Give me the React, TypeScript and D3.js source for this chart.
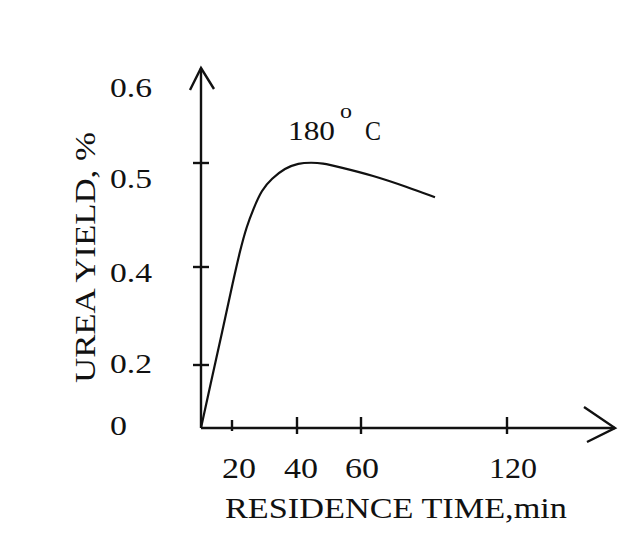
import React, { useEffect, useRef } from "react";
import * as d3 from "d3";

// residence time (min) vs urea yield (%) at 180 C
const timeMin = [0, 7.1, 13.5, 20.4, 22.5, 24.5, 26.6, 29.1, 32.2, 36.3, 40.4, 44.6, 47.7, 53.4, 64.9, 78.9, 90.4];
const yieldPct = [0, 0.16, 0.265, 0.373, 0.416, 0.439, 0.456, 0.474, 0.485, 0.495, 0.5, 0.5005, 0.5, 0.496, 0.488, 0.477, 0.467];

// the original axes are hand drawn, ticks are not evenly spaced
const xTicks = [20, 40, 60, 120];
const xTickPx = [201, 232, 297, 361, 507];
const yTicks = [0, 0.2, 0.4, 0.5, 0.6];
const yTickLabels = ["0", "0.2", "0.4", "0.5", "0.6"];
const yTickPx = [428, 365, 267, 163, 88];
const yLabelBaseline = [435, 373, 282, 188, 97];

const App = () => {
  const ref = useRef<SVGSVGElement>(null);

  useEffect(() => {
    const width = 637;
    const height = 539;
    const svg = d3.select(ref.current);
    svg.selectAll("*").remove();
    svg.attr("width", width).attr("height", height);

    const x = d3.scaleLinear().domain([0, ...xTicks]).range(xTickPx);
    const y = d3.scaleLinear().domain(yTicks).range(yTickPx);
    const yLab = d3.scaleLinear().domain(yTicks).range(yLabelBaseline);

    const x0 = x(0);
    const y0 = y(0);
    const font = "'Liberation Serif', 'Times New Roman', serif";

    const label = (g, txt, px, py, size, len, anchor = "start") =>
      g
        .append("text")
        .attr("x", px)
        .attr("y", py)
        .attr("font-family", font)
        .attr("font-size", size)
        .attr("text-anchor", anchor)
        .attr("textLength", len)
        .attr("lengthAdjust", "spacingAndGlyphs")
        .attr("fill", "#111")
        .text(txt);

    // axes
    const axes = svg.append("g").attr("stroke", "#111").attr("stroke-width", 2.4).attr("fill", "none");
    axes.append("line").attr("x1", x0).attr("y1", y0).attr("x2", x0).attr("y2", 68);
    axes.append("polyline").attr("points", `${x0 - 11},90 ${x0},68 ${x0 + 13},89`);
    axes.append("line").attr("x1", x0).attr("y1", y0).attr("x2", 615).attr("y2", y0);
    axes.append("polyline").attr("points", `584,407 615,${y0} 587,442`);

    // y ticks (0.6 has none, just the label)
    yTicks.slice(1, 4).forEach((v) => {
      axes.append("line").attr("x1", x0 - 8).attr("x2", x0 + 8).attr("y1", y(v)).attr("y2", y(v));
    });
    xTicks.forEach((v, i) => {
      const h = i === 0 ? 5 : 8;
      axes.append("line").attr("x1", x(v)).attr("x2", x(v)).attr("y1", y0 - h - 3).attr("y2", y0 + h - 2);
    });

    // tick labels
    yTicks.forEach((v, i) => {
      label(svg, yTickLabels[i], 110, yLab(v), 27, v === 0 ? 17 : 42);
    });
    const xLabelShift = [7, 4, 1, 6];
    xTicks.forEach((v, i) => {
      label(svg, String(v), x(v) + xLabelShift[i], 478, 29, v >= 100 ? 48 : 34, "middle");
    });

    // axis titles
    label(svg, "RESIDENCE TIME,min", 396, 518, 30, 342, "middle");
    label(svg, "UREA YIELD, %", 0, 0, 30, 251, "middle").attr(
      "transform",
      "translate(95,257.5) rotate(-90)"
    );

    // curve
    const pts = timeMin.map((t, i) => [t, yieldPct[i]]);
    const line = d3
      .line()
      .x((d) => x(d[0]))
      .y((d) => y(d[1]))
      .curve(d3.curveBasis);
    svg
      .append("path")
      .datum(pts)
      .attr("fill", "none")
      .attr("stroke", "#111")
      .attr("stroke-width", 2.2)
      .attr("d", line);

    // 180 oC annotation
    label(svg, "180", 288, 140, 27, 47);
    label(svg, "o", 340, 118, 22, 12);
    label(svg, "C", 365, 140, 27, 16);
  }, []);

  return <svg ref={ref} style={{ position: "absolute", left: 0, top: 0, background: "#fff" }} />;
};

export default App;
